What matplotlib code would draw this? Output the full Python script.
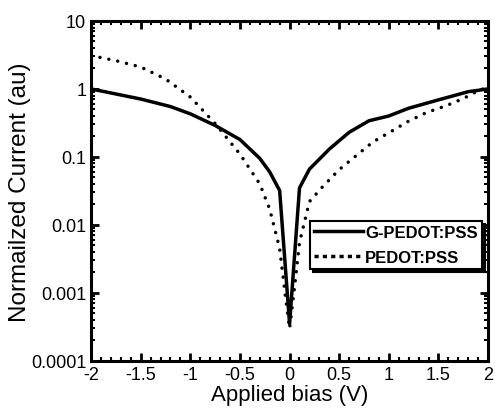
import numpy as np
import matplotlib
matplotlib.use("Agg")
import matplotlib.pyplot as plt
from matplotlib.ticker import FixedLocator, MultipleLocator, LogLocator, NullFormatter

plt.rcParams['font.family'] = ['Liberation Sans', 'DejaVu Sans']

# G-PEDOT:PSS (solid)
bias_g = [-2.0, -1.5, -1.2, -1.0, -0.75, -0.5, -0.3, -0.2, -0.1, 0.0,
          0.1, 0.2, 0.4, 0.6, 0.8, 1.0, 1.2, 1.5, 1.8, 2.0]
current_g = [1.0, 0.71, 0.55, 0.43, 0.29, 0.18, 0.095, 0.06, 0.032, 0.00035,
             0.035, 0.066, 0.13, 0.23, 0.34, 0.40, 0.52, 0.69, 0.91, 1.0]

# PEDOT:PSS (dotted)
bias_p = [-2.0, -1.75, -1.5, -1.25, -1.0, -0.75, -0.5, -0.3, -0.2, -0.1, -0.05, 0.0,
          0.05, 0.1, 0.2, 0.33, 0.5, 0.68, 0.84, 1.03, 1.19, 1.38, 1.57, 1.74, 1.92, 2.0]
current_p = [3.1, 2.6, 2.1, 1.4, 0.76, 0.31, 0.11, 0.04, 0.017, 0.0045, 0.0011, 0.0003,
             0.0012, 0.0055, 0.022, 0.036, 0.065, 0.107, 0.166, 0.24, 0.33, 0.45, 0.56, 0.71, 0.97, 1.05]

xticks = [-2, -1.5, -1, -0.5, 0, 0.5, 1, 1.5, 2]
xtick_labels = ['-2', '-1.5', '-1', '-0.5', '0', '0.5', '1', '1.5', '2']
yticks = [1e-4, 1e-3, 1e-2, 1e-1, 1, 10]
ytick_labels = ['0.0001', '0.001', '0.01', '0.1', '1', '10']

fig = plt.figure(figsize=(4.95, 4.14), dpi=100)
ax = fig.add_axes([0.184, 0.126, 0.802, 0.821])

ax.plot(bias_g, current_g, color='black', lw=2.5, label='G-PEDOT:PSS')
ax.plot(bias_p, current_p, color='black', lw=2.5, linestyle=(0, (0.01, 2.6)),
        dash_capstyle='round', label='PEDOT:PSS')

ax.set_yscale('log')
ax.set_xlim(-2, 2)
ax.set_ylim(1e-4, 10)

ax.xaxis.set_major_locator(FixedLocator(xticks))
ax.set_xticklabels(xtick_labels)
ax.xaxis.set_minor_locator(MultipleLocator(0.1))
ax.yaxis.set_major_locator(FixedLocator(yticks))
ax.set_yticklabels(ytick_labels)
ax.yaxis.set_minor_locator(LogLocator(base=10, subs=np.arange(2, 10), numticks=20))
ax.yaxis.set_minor_formatter(NullFormatter())

ax.tick_params(which='both', direction='in', top=True, right=True, labelsize=13)
ax.tick_params(which='major', length=6, width=2)
ax.tick_params(which='minor', length=3, width=1.5)
for s in ax.spines.values():
    s.set_linewidth(2.2)

ax.set_xlabel('Applied bias (V)', fontsize=16, labelpad=1)
ax.set_ylabel('Normailzed Current (au)', fontsize=17.5, labelpad=0)

leg = ax.legend(loc='upper right', bbox_to_anchor=(0.985, 0.412), fancybox=False,
                shadow={'color': 'black', 'alpha': 1}, edgecolor='black',
                framealpha=1, handlelength=2.9, borderaxespad=0,
                prop={'weight': 'bold', 'size': 12}, labelspacing=0.6,
                handletextpad=0.15, borderpad=0.25)
leg.get_frame().set_linewidth(1.5)
leg.get_lines()[1].set_linestyle((0, (1.2, 1.2)))
leg.get_lines()[1].set_dash_capstyle('butt')

fig.savefig('out.png', dpi=100)
